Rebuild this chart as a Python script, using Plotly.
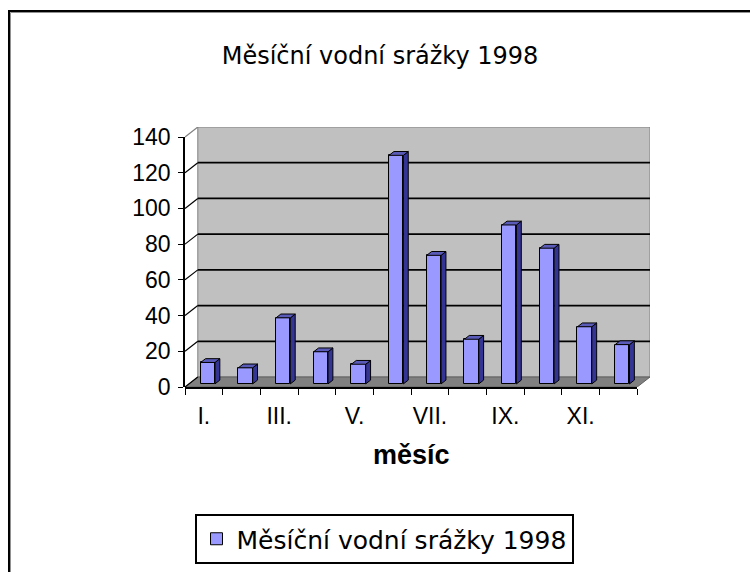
import plotly.graph_objects as go

# ---- data ----
months = ["I.", "II.", "III.", "IV.", "V.", "VI.", "VII.", "VIII.", "IX.", "X.", "XI.", "XII."]
rainfall = [12, 9, 37, 18, 11, 128, 72, 25, 89, 76, 32, 22]
y_ticks = [0, 20, 40, 60, 80, 100, 120, 140]
label_months = ["I.", "III.", "V.", "VII.", "IX.", "XI."]
series_name = "Měsíční vodní srážky 1998"
title_text = "Měsíční vodní srážky 1998"
x_title = "měsíc"

# ---- 3D geometry (in data units) ----
N = len(months)
YMAX = 140
DX = 0.34        # depth offset in category units
DY = 5.6         # depth offset in value units
T0 = 0.31        # bar front plane depth fraction
TD = 0.38        # bar depth fraction
W = 0.38         # bar width
pos = list(range(1, N + 1))
label_pos = [pos[months.index(m)] for m in label_months]

fig = go.Figure()

# front faces
fig.add_trace(go.Bar(
    x=[p + T0 * DX for p in pos], y=rainfall, base=[T0 * DY] * N, width=W,
    marker=dict(color="#9999FF", line=dict(color="black", width=1)),
    name=series_name, showlegend=True, hoverinfo="skip"))

# side faces and top faces
sx, sy, tx, ty = [], [], [], []
ddx, ddy = TD * DX, TD * DY
for p, v in zip(pos, rainfall):
    x0 = p + T0 * DX - W / 2
    x1 = p + T0 * DX + W / 2
    b = T0 * DY
    t = b + v
    sx += [x1, x1 + ddx, x1 + ddx, x1, x1, None]
    sy += [b, b + ddy, t + ddy, t, b, None]
    tx += [x0, x1, x1 + ddx, x0 + ddx, x0, None]
    ty += [t, t, t + ddy, t + ddy, t, None]
fig.add_trace(go.Scatter(x=sx, y=sy, mode="lines", fill="toself", fillcolor="#343494",
                         line=dict(color="black", width=1), showlegend=False, hoverinfo="skip"))
fig.add_trace(go.Scatter(x=tx, y=ty, mode="lines", fill="toself", fillcolor="#5a5ab8",
                         line=dict(color="black", width=1), showlegend=False, hoverinfo="skip"))

# empty helper traces so the front axes get their own subplots
fig.add_trace(go.Scatter(x=[None], y=[None], xaxis="x2", yaxis="y", showlegend=False, hoverinfo="skip"))
fig.add_trace(go.Scatter(x=[None], y=[None], xaxis="x", yaxis="y2", showlegend=False, hoverinfo="skip"))

shapes = []
# back wall
shapes.append(dict(type="rect", xref="x", yref="y", x0=0.5 + DX, x1=N + 0.5 + DX, y0=DY, y1=YMAX + DY,
                   fillcolor="#C0C0C0", line=dict(color="#808080", width=1), layer="below"))
# floor
shapes.append(dict(type="path", xref="x", yref="y",
                   path=f"M0.5,0 L{N + 0.5},0 L{N + 0.5 + DX},{DY} L{0.5 + DX},{DY} Z",
                   fillcolor="#808080", line=dict(color="#606060", width=1), layer="below"))
# gridlines on the back wall + side connectors
for v in y_ticks:
    shapes.append(dict(type="line", xref="x", yref="y", x0=0.5, y0=v, x1=0.5 + DX, y1=v + DY,
                       line=dict(color="black" if v < YMAX else "#808080", width=1.2), layer="below"))
    if 0 < v < YMAX:
        shapes.append(dict(type="line", xref="x", yref="y", x0=0.5 + DX, y0=v + DY, x1=N + 0.5 + DX, y1=v + DY,
                           line=dict(color="black", width=1.8), layer="below"))
# chart frame
shapes.append(dict(type="rect", xref="paper", yref="paper", x0=-0.3785, x1=1.5, y0=-0.9, y1=1.446,
                   line=dict(color="black", width=2), fillcolor="rgba(0,0,0,0)"))
shapes.append(dict(type="rect", xref="paper", yref="paper", x0=-0.3753, x1=1.5, y0=-0.9, y1=1.4404,
                   line=dict(color="#909090", width=1), fillcolor="rgba(0,0,0,0)"))

tick_font = dict(family="Liberation Sans, Arial, sans-serif", size=23, color="black")

fig.update_layout(
    width=750, height=572,
    margin=dict(l=185, r=100, t=127, b=185, autoexpand=False),
    paper_bgcolor="white", plot_bgcolor="rgba(0,0,0,0)",
    shapes=shapes,
    title=dict(text=title_text, xref="container", yref="container", x=380 / 750, y=1 - 56 / 572,
               xanchor="center", yanchor="middle",
               font=dict(family="DejaVu Sans, sans-serif", size=24, color="black")),
    xaxis=dict(range=[0.5, N + 0.5 + DX], showgrid=False, zeroline=False, showline=False,
               showticklabels=False, ticks="", fixedrange=True),
    yaxis=dict(range=[0, YMAX + DY], showgrid=False, zeroline=False, showline=False,
               showticklabels=False, ticks="", fixedrange=True),
    xaxis2=dict(anchor="y", domain=[0, N / (N + DX)], range=[0.5, N + 0.5],
                tickmode="array", tickvals=label_pos, ticktext=label_months, ticks="",
                ticklabelstandoff=8, tickfont=tick_font, fixedrange=True,
                minor=dict(tickmode="array", tickvals=[p - 0.5 for p in pos] + [N + 0.5],
                           ticks="outside", ticklen=6, tickcolor="black", tickwidth=1),
                showline=True, linecolor="black", linewidth=1.5, showgrid=False, zeroline=False),
    yaxis2=dict(anchor="x", domain=[0, YMAX / (YMAX + DY)], range=[0, YMAX],
                tickmode="array", tickvals=y_ticks, ticks="outside", ticklen=5, tickcolor="black",
                ticklabelstandoff=3,
                tickfont=tick_font, showline=True, linecolor="black", linewidth=1.5, fixedrange=True,
                showgrid=False, zeroline=False),
    legend=dict(xref="container", yref="container", x=384 / 750, y=1 - 539 / 572,
                xanchor="center", yanchor="middle", bordercolor="black", borderwidth=2,
                bgcolor="white", itemwidth=30,
                font=dict(family="DejaVu Sans, sans-serif", size=25, color="black")),
    annotations=[dict(text=f"<b>{x_title}</b>", xref="x2", yref="paper", x=(N + 1) / 2, y=0,
                      yanchor="middle", xanchor="center", yshift=-68, showarrow=False,
                      font=dict(family="Liberation Sans, Arial, sans-serif", size=27, color="black"))],
    bargap=0,
)

fig.write_html("out.html", config={"displayModeBar": False},
               post_script="document.body.style.margin='0';")
